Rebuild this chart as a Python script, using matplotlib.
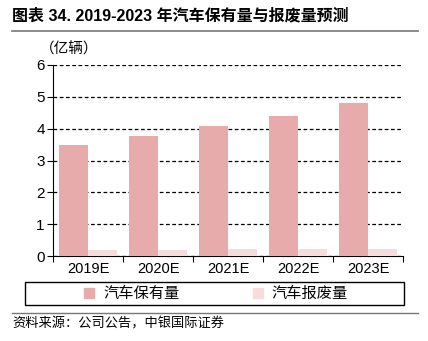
import matplotlib.pyplot as plt
import numpy as np
from matplotlib.patches import Patch, Rectangle

plt.rcParams['font.family'] = ['Liberation Sans', 'Noto Sans CJK SC', 'DejaVu Sans']

years = ['2019E', '2020E', '2021E', '2022E', '2023E']
holding = [3.49, 3.78, 4.08, 4.39, 4.81]   # 汽车保有量 (亿辆)
scrap = [0.19, 0.19, 0.23, 0.23, 0.23]     # 汽车报废量 (亿辆)

c_hold = '#e8abab'
c_scrap = '#f8dcdc'

fig = plt.figure(figsize=(4.28, 3.41), dpi=100)
W, H = 428, 341
ax = fig.add_axes([53 / W, 1 - 256 / H, (403 - 53) / W, (256 - 65) / H])

x = np.arange(len(years))
w = 0.41
ax.bar(x - w / 2, holding, width=w, color=c_hold, zorder=3)
ax.bar(x + w / 2, scrap, width=w, color=c_scrap, zorder=3)

ax.set_xlim(-0.5, len(years) - 0.5)
ax.set_ylim(0, 6)
ax.set_yticks(range(7))
ax.yaxis.grid(True, linestyle=(0, (3, 2)), color='black', linewidth=0.9)
ax.set_axisbelow(True)
ax.set_xticks(np.arange(len(years) + 1) - 0.5)
ax.set_xticklabels([])
ax.set_xticks(x, minor=True)
ax.set_xticklabels(years, minor=True, fontsize=10.5)
ax.tick_params(axis='x', which='minor', length=0, pad=4)
ax.tick_params(axis='x', which='major', length=4, direction='out')
ax.tick_params(axis='y', length=4, labelsize=11, pad=2)
for s in ['top', 'right']:
    ax.spines[s].set_visible(False)

# title and decorations
fig.text(12 / W, 1 - 16 / H, '图表 34. 2019-2023 年汽车保有量与报废量预测',
         fontsize=11.5, fontweight='bold', va='center', ha='left',
         family=['Liberation Sans', 'Noto Sans CJK SC'])
fig.add_artist(plt.Line2D([12 / W, 418 / W], [1 - 31 / H, 1 - 31 / H], color='#777777', linewidth=1.2))
fig.text(40 / W, 1 - 49 / H, '（亿辆）', fontsize=10.5, va='center', ha='left',
         family=['Noto Sans CJK SC'])

# legend box
fig.add_artist(Rectangle((25 / W, 1 - 305 / H), (404 - 25) / W, 23 / H,
                         transform=fig.transFigure, fill=False, edgecolor='black', linewidth=1.0))
handles = [Patch(color=c_hold), Patch(color=c_scrap)]
fig.legend(handles, ['汽车保有量', '汽车报废量'], loc='center',
           bbox_to_anchor=(216 / W, 1 - 293.5 / H),
           ncol=2, frameon=False, handlelength=0.65, handleheight=0.65,
           handletextpad=0.6, columnspacing=4.8,
           prop={'family': ['Noto Sans CJK SC'], 'size': 11})

fig.add_artist(plt.Line2D([12 / W, 418 / W], [1 - 313 / H, 1 - 313 / H], color='#777777', linewidth=1.0))
fig.text(12 / W, 1 - 324 / H, '资料来源：公司公告，中银国际证券', fontsize=9.5, style='italic',
         va='center', ha='left', family=['Noto Sans CJK SC'])

plt.savefig('out.png', dpi=100)
